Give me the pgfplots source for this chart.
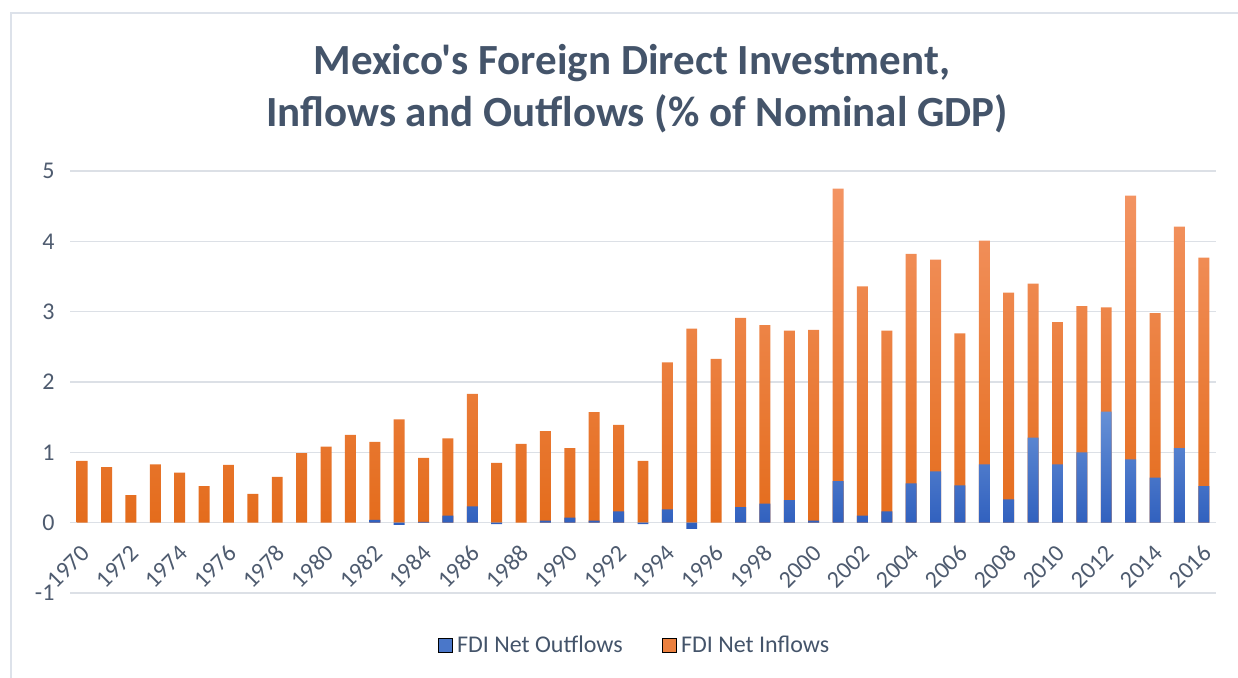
\documentclass[border=0pt]{standalone}
\usepackage{pgfplots}
\usepackage{pgfplotstable}
\pgfplotsset{compat=1.18}
\usepackage{fontspec}
\setmainfont{Carlito}[Ligatures=TeXOff]
\definecolor{txt}{HTML}{44546A}
\definecolor{tickc}{HTML}{4E5B6F}
\definecolor{gridc}{HTML}{DCE0E6}
\definecolor{oTop}{HTML}{F39463}
\definecolor{oBot}{HTML}{E46C1C}
\definecolor{bTop}{HTML}{6690D6}
\definecolor{bBot}{HTML}{2E5EBD}
\definecolor{framec}{HTML}{DDE2EA}

% Inflows (% of GDP), x = year - 1970
\pgfplotstableread{
x in
0 0.88
1 0.79
2 0.39
3 0.83
4 0.71
5 0.52
6 0.82
7 0.41
8 0.65
9 0.99
10 1.08
11 1.25
12 1.15
13 1.47
14 0.92
15 1.20
16 1.83
17 0.85
18 1.12
19 1.30
20 1.06
21 1.57
22 1.39
23 0.88
24 2.28
25 2.76
26 2.33
27 2.91
28 2.81
29 2.73
30 2.74
31 4.75
32 3.36
33 2.73
34 3.82
35 3.74
36 2.69
37 4.01
38 3.27
39 3.40
40 2.85
41 3.08
42 3.06
43 4.65
44 2.98
45 4.21
46 3.77
}\inflows

% Outflows (% of GDP), x = year - 1970 (years with no visible bar left out)
\pgfplotstableread{
x out
12 0.04
13 -0.03
14 0.01
15 0.10
16 0.23
17 -0.02
19 0.03
20 0.07
21 0.03
22 0.16
23 -0.02
24 0.19
25 -0.09
27 0.22
28 0.27
29 0.32
30 0.03
31 0.59
32 0.10
33 0.16
34 0.56
35 0.73
36 0.53
37 0.83
38 0.33
39 1.21
40 0.83
41 1.00
42 1.58
43 0.90
44 0.64
45 1.06
46 0.52
}\outflows

\begin{document}
\begin{tikzpicture}[x=1pt,y=1pt]
\path[use as bounding box] (0,0) rectangle (1238,677);
\draw[framec, line width=1.5pt] (11,-2) -- (11,664) -- (1240,664);
\node[font=\fontsize{43}{50}\selectfont\bfseries, text=txt, anchor=base] at (632,602) {Mexico's Foreign Direct Investment,};
\node[font=\fontsize{43}{50}\selectfont\bfseries, text=txt, anchor=base] at (637,550) {Inflows and Outflows (\% of Nominal GDP)};
\begin{axis}[
  at={(70pt,84pt)}, anchor=south west,
  width=1146pt, height=422pt, scale only axis,
  xmin=-0.5, xmax=46.5, ymin=-1, ymax=5,
  ytick={-1,0,1,2,3,4,5},
  xtick={0,2,4,6,8,10,12,14,16,18,20,22,24,26,28,30,32,34,36,38,40,42,44,46},
  xticklabels={1970,1972,1974,1976,1978,1980,1982,1984,1986,1988,1990,1992,1994,1996,1998,2000,2002,2004,2006,2008,2010,2012,2014,2016},
  ymajorgrids, grid style={gridc, line width=1.5pt},
  axis lines=left, axis line style={draw=none}, major tick length=0pt,
  /pgf/number format/assume math mode=true,
  yticklabel style={font=\fontsize{24}{28}\selectfont, text=tickc, xshift=-12pt},
  xticklabel style={font=\fontsize{24}{28}\selectfont, text=tickc, xshift=6pt, yshift=46pt, rotate=45, anchor=east},
  legend style={at={(0.4917,-0.123)}, anchor=center, draw=none, fill=none,
    legend columns=2, font=\fontsize{24}{28}\selectfont, text=txt,
    nodes={inner sep=0pt},
    /tikz/every odd column/.append style={column sep=5pt},
    /tikz/every even column/.append style={column sep=39pt}},
  legend image code/.code={\fill[#1] (0pt,-7pt) rectangle (14pt,7pt);},
]
\addlegendimage{fill=bTop!50!bBot}
\addlegendentry{FDI Net Outflows}
\addlegendimage{fill=oTop!50!oBot}
\addlegendentry{FDI Net Inflows}
\addplot[ybar, bar width=0.45, bar shift=0pt, draw=none, top color=oTop, bottom color=oBot, forget plot] table[x=x,y=in]{\inflows};
\addplot[ybar, bar width=0.45, bar shift=0pt, draw=none, top color=bTop, bottom color=bBot, forget plot] table[x=x,y=out]{\outflows};
\end{axis}
\end{tikzpicture}
\end{document}
